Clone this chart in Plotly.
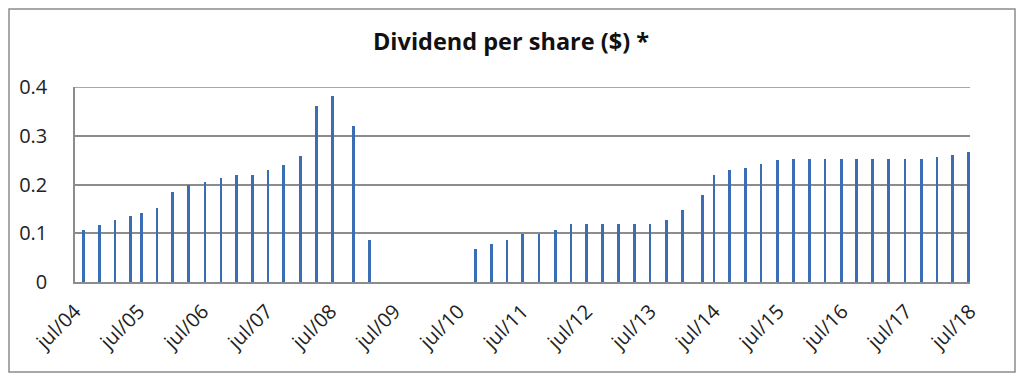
import plotly.graph_objects as go

dates = [
    "2004-08-18", "2004-11-16", "2005-02-14", "2005-05-12", "2005-07-14", "2005-10-12",
    "2006-01-11", "2006-04-11", "2006-07-14", "2006-10-13", "2007-01-11", "2007-04-11",
    "2007-07-09", "2007-10-07", "2008-01-08", "2008-04-12", "2008-07-10", "2008-11-08",
    "2009-02-06",
    "2010-10-07", "2011-01-05", "2011-04-04", "2011-07-02", "2011-10-04", "2012-01-04",
    "2012-04-04", "2012-07-02", "2012-10-02", "2013-01-01", "2013-04-01", "2013-06-29",
    "2013-10-01", "2014-01-01", "2014-04-26",
    "2014-06-29", "2014-09-28", "2014-12-25", "2015-03-25", "2015-06-25", "2015-09-28",
    "2015-12-25", "2016-03-25", "2016-06-25", "2016-09-22", "2016-12-22", "2017-03-22",
    "2017-06-25", "2017-09-25", "2017-12-25", "2018-03-22", "2018-06-22",
]
dividends = [
    0.106, 0.116, 0.128, 0.136, 0.142, 0.152,
    0.185, 0.199, 0.205, 0.213, 0.219, 0.219,
    0.230, 0.239, 0.259, 0.361, 0.381, 0.320,
    0.087,
    0.067, 0.078, 0.087, 0.099, 0.099, 0.107,
    0.118, 0.118, 0.118, 0.118, 0.118, 0.118,
    0.128, 0.148, 0.178,
    0.219, 0.229, 0.233, 0.243, 0.250, 0.253,
    0.253, 0.253, 0.253, 0.253, 0.253, 0.253,
    0.253, 0.253, 0.257, 0.261, 0.266,
]
tick_dates = ["%d-07-01" % y for y in range(2004, 2019)]
tick_labels = ["jul/%02d" % (y % 100) for y in range(2004, 2019)]
y_ticks = [0, 0.1, 0.2, 0.3, 0.4]
y_labels = ["0", "0.1", "0.2", "0.3", "0.4"]

fig = go.Figure(go.Bar(
    x=dates, y=dividends,
    width=16 * 86400000,
    marker=dict(color="#3B6CB6", line=dict(width=0)),
))

# the page body has an 8px default margin, so the figure sits at (8, 8)
OFF = 8
W, H = 1024 - OFF, 380 - OFF
L, T = 75 - OFF, 87 - OFF
R = W - (970 - OFF)
B = H - (282 - OFF)
pw, ph = W - L - R, H - T - B
GRID = "#8c8c8c"

fig.update_layout(
    width=W, height=H,
    margin=dict(l=L, r=R, t=T, b=B, pad=0, autoexpand=False),
    paper_bgcolor="white", plot_bgcolor="white",
    showlegend=False,
    font=dict(family="Open Sans, sans-serif", color="#222"),
    title=dict(text="<b>Dividend per share ($) *</b>", x=(511 - OFF - L) / pw, xref="paper",
               xanchor="center", y=1 - (42 - OFF) / H, yref="container", yanchor="middle",
               font=dict(size=23.5, color="#111")),
    bargap=0,
)
fig.update_xaxes(
    type="date", range=["2004-07-01", "2018-07-01"],
    tickvals=tick_dates, ticktext=tick_labels, tickangle=-45,
    tickfont=dict(size=20, color="#222"),
    showgrid=False, showline=True, linecolor=GRID, linewidth=1.5,
    ticks="", zeroline=False, automargin=False, ticklabelstandoff=8,
)
fig.update_yaxes(
    range=[0, 0.4], tickvals=y_ticks, ticktext=y_labels,
    tickfont=dict(size=20, color="#222"),
    showgrid=True, gridcolor=GRID, gridwidth=1.5,
    showline=True, linecolor=GRID, linewidth=1.5,
    zeroline=False, ticks="", ticklabelstandoff=22, automargin=False,
)
# top gridline (at the edge of the plot area)
fig.add_shape(type="line", xref="paper", yref="y", x0=0, x1=1, y0=0.4, y1=0.4,
              line=dict(color=GRID, width=1.5), layer="below")
# outer chart frame
fig.add_shape(type="rect", xref="paper", yref="paper",
              x0=(1 - L) / pw, x1=(1015 - OFF - L) / pw,
              y0=(H - B - (372 - OFF)) / ph, y1=(H - B - 1) / ph,
              line=dict(color=GRID, width=1.5), layer="below")
fig.write_html("out.html")
